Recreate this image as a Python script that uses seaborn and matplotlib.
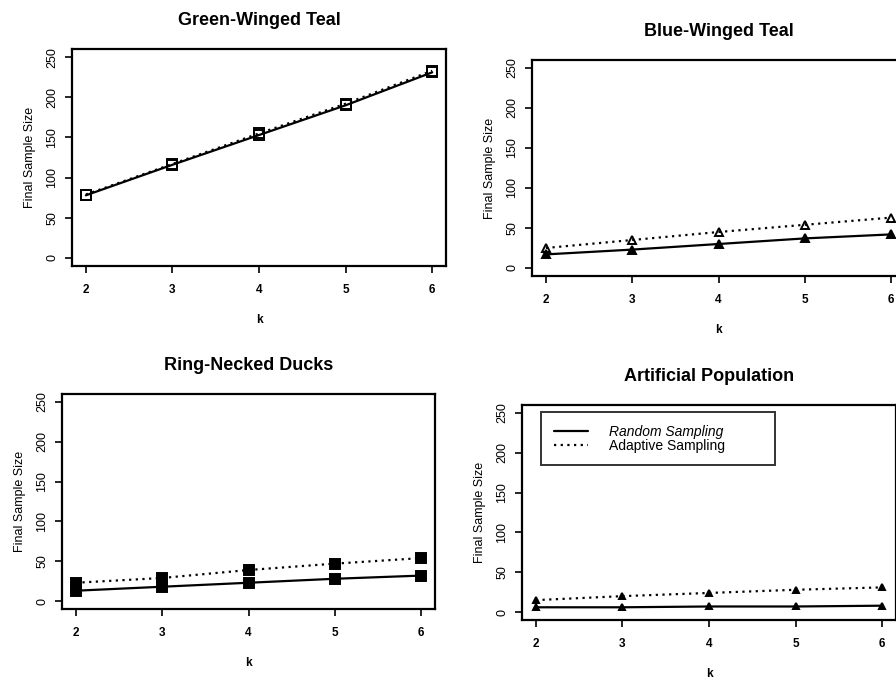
import numpy as np
import pandas as pd
import matplotlib.pyplot as plt
import seaborn as sns

# values
k = [2, 3, 4, 5, 6]

gwt_random = [78, 116, 153, 190, 231]
gwt_adaptive = [79, 117, 155, 192, 233]

bwt_random = [17, 23, 30, 37, 42]
bwt_adaptive = [25, 35, 45, 54, 63]

rnd_random = [13, 18, 23, 28, 32]
rnd_adaptive = [23, 29, 39, 47, 54]

art_random = [6, 6, 7, 7, 8]
art_adaptive = [15, 20, 24, 28, 31]

titles = ["Green-Winged Teal", "Blue-Winged Teal", "Ring-Necked Ducks", "Artificial Population"]
y_ticks = [0, 50, 100, 150, 200, 250]

sns.set_theme(style="ticks")
plt.rcParams["font.family"] = ["Liberation Sans", "DejaVu Sans"]
plt.rcParams["text.color"] = "black"
plt.rcParams["axes.labelcolor"] = "black"
plt.rcParams["xtick.color"] = "black"
plt.rcParams["ytick.color"] = "black"

fig = plt.figure(figsize=(8.96, 6.83), dpi=100)

# panel boxes in figure fractions (left, bottom, width, height)
boxes = [
    (0.0804, 0.6105, 0.4174, 0.3177),
    (0.5938, 0.5959, 0.4163, 0.3163),
    (0.0692, 0.1083, 0.4163, 0.3148),
    (0.5826, 0.0922, 0.4174, 0.3148),
]

series = [
    (gwt_random, gwt_adaptive, "s", "s", "none", "none", 6.5),
    (bwt_random, bwt_adaptive, "^", "^", "black", "none", 6),
    (rnd_random, rnd_adaptive, "s", "s", "black", "black", 7),
    (art_random, art_adaptive, "^", "^", "black", "black", 4.5),
]

for i, (title, box, s) in enumerate(zip(titles, boxes, series)):
    ax = fig.add_axes(box)
    rand, adap, m1, m2, fc1, fc2, ms = s
    df = pd.DataFrame({"k": k, "Random Sampling": rand, "Adaptive Sampling": adap})

    sns.lineplot(data=df, x="k", y="Random Sampling", ax=ax, color="black",
                 linewidth=1.6, linestyle="-", marker=m1, markersize=ms,
                 markerfacecolor=fc1, markeredgecolor="black", markeredgewidth=1.4,
                 label="Random Sampling")
    sns.lineplot(data=df, x="k", y="Adaptive Sampling", ax=ax, color="black",
                 linewidth=1.6, linestyle=(0, (1, 2)), marker=m2, markersize=ms,
                 markerfacecolor=fc2, markeredgecolor="black", markeredgewidth=1.4,
                 label="Adaptive Sampling")

    ax.set_xlim(1.84, 6.16)
    ax.set_ylim(-10, 260)
    ax.set_xticks(k)
    ax.set_yticks(y_ticks)
    ax.set_xticklabels([str(v) for v in k], fontweight="bold", fontsize=8.5)
    ax.set_yticklabels([str(v) for v in y_ticks], fontsize=9, rotation=90, va="center")
    ax.tick_params(axis="x", direction="out", length=5, width=1.2, pad=8)
    ax.tick_params(axis="y", direction="out", length=5, width=1.2, pad=5)
    ax.set_xlabel("k", fontweight="bold", fontsize=8.5, labelpad=13)
    ax.set_ylabel("Final Sample Size", fontsize=9, labelpad=7)
    ax.set_title(title, fontsize=13, fontweight="bold", pad=17)
    for sp in ax.spines.values():
        sp.set_visible(True)
        sp.set_linewidth(1.6)
        sp.set_color("black")

    if i == 3:
        leg = ax.legend(loc="upper left", bbox_to_anchor=(0.051, 0.72, 0.626, 0.247),
                        mode="expand", frameon=True, fancybox=False, fontsize=10,
                        handlelength=2.5, borderpad=0.9, labelspacing=0.0,
                        handletextpad=1.5, borderaxespad=0.0)
        leg.get_frame().set_edgecolor("black")
        leg.get_frame().set_linewidth(1.4)
        for h in leg.get_lines():
            h.set_marker("")
        leg.get_texts()[0].set_fontstyle("italic")
    else:
        ax.get_legend().remove()

fig.savefig("out.png", dpi=100)
